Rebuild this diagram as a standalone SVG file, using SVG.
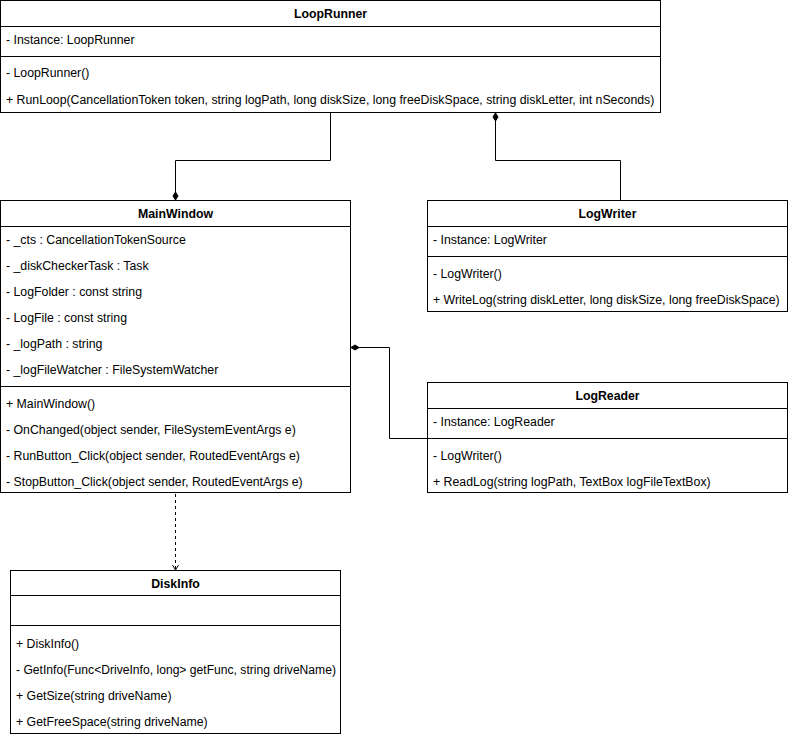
<svg xmlns="http://www.w3.org/2000/svg" width="788" height="738" viewBox="0 0 788 738">
<style>
.box{fill:#fff;stroke:#000;stroke-width:1}
.sep{stroke:#000;stroke-width:1}
.t{font-family:"Liberation Sans",Arial,sans-serif;font-size:12.3px;fill:#000}
.h{font-family:"Liberation Sans",Arial,sans-serif;font-size:12.3px;font-weight:bold;fill:#000;text-anchor:middle}
.edge{fill:none;stroke:#000;stroke-width:1}
.dash{fill:none;stroke:#000;stroke-width:1;stroke-dasharray:3 3}
</style>
<defs>
<marker id="diamond" markerUnits="userSpaceOnUse" markerWidth="10" markerHeight="8" refX="9" refY="4" orient="auto" overflow="visible">
<path d="M1,4 L5,1.5 L9,4 L5,6.5 Z" fill="#000" stroke="#000" stroke-width="1"/>
</marker>
<marker id="open" markerUnits="userSpaceOnUse" markerWidth="10" markerHeight="10" refX="8" refY="5" orient="auto" overflow="visible">
<path d="M3,2 L8,5 L3,8" fill="none" stroke="#000" stroke-width="1"/>
</marker>
</defs>
<rect width="788" height="738" fill="#fff"/>
<g id="connectors">
<path class="edge" d="M330.5,113 V160.5 H175.5 V200" marker-end="url(#diamond)"/>
<path class="edge" d="M620.5,200 V160.5 H495.5 V113" marker-end="url(#diamond)"/>
<path class="edge" d="M428,438.5 H389.5 V347.5 H351" marker-end="url(#diamond)"/>
<path class="dash" d="M175.5,494 V570" marker-end="url(#open)"/>
</g>
<g id="LoopRunner">
<rect class="box" x="0.5" y="0.5" width="660" height="112"/>
<line class="sep" x1="0.5" y1="26.5" x2="660.5" y2="26.5"/>
<line class="sep" x1="0.5" y1="56.5" x2="660.5" y2="56.5"/>
<text class="h" x="330.5" y="18">LoopRunner</text>
<text class="t" x="6" y="44">- Instance: LoopRunner</text>
<text class="t" x="6" y="77">- LoopRunner()</text>
<text class="t" x="6" y="104">+ RunLoop(CancellationToken token, string logPath, long diskSize, long freeDiskSpace, string diskLetter, int nSeconds)</text>
</g>
<g id="MainWindow">
<rect class="box" x="0.5" y="200.5" width="350" height="292"/>
<line class="sep" x1="0.5" y1="226.5" x2="350.5" y2="226.5"/>
<line class="sep" x1="0.5" y1="386.5" x2="350.5" y2="386.5"/>
<text class="h" x="175.5" y="218">MainWindow</text>
<text class="t" x="6" y="244">- _cts : CancellationTokenSource</text>
<text class="t" x="6" y="270">- _diskCheckerTask : Task</text>
<text class="t" x="6" y="296">- LogFolder : const string</text>
<text class="t" x="6" y="322">- LogFile : const string</text>
<text class="t" x="6" y="348">- _logPath : string</text>
<text class="t" x="6" y="374">- _logFileWatcher : FileSystemWatcher</text>
<text class="t" x="6" y="408">+ MainWindow()</text>
<text class="t" x="6" y="434">- OnChanged(object sender, FileSystemEventArgs e)</text>
<text class="t" x="6" y="460">- RunButton_Click(object sender, RoutedEventArgs e)</text>
<text class="t" x="6" y="486">- StopButton_Click(object sender, RoutedEventArgs e)</text>
</g>
<g id="LogWriter">
<rect class="box" x="427.5" y="200.5" width="360" height="111"/>
<line class="sep" x1="427.5" y1="226.5" x2="787.5" y2="226.5"/>
<line class="sep" x1="427.5" y1="256.5" x2="787.5" y2="256.5"/>
<text class="h" x="607.5" y="218">LogWriter</text>
<text class="t" x="433" y="244">- Instance: LogWriter</text>
<text class="t" x="433" y="278">- LogWriter()</text>
<text class="t" x="433" y="304">+ WriteLog(string diskLetter, long diskSize, long freeDiskSpace)</text>
</g>
<g id="LogReader">
<rect class="box" x="427.5" y="382.5" width="360" height="110"/>
<line class="sep" x1="427.5" y1="408.5" x2="787.5" y2="408.5"/>
<line class="sep" x1="427.5" y1="438.5" x2="787.5" y2="438.5"/>
<text class="h" x="607.5" y="400">LogReader</text>
<text class="t" x="433" y="426">- Instance: LogReader</text>
<text class="t" x="433" y="460">- LogWriter()</text>
<text class="t" x="433" y="486">+ ReadLog(string logPath, TextBox logFileTextBox)</text>
</g>
<g id="DiskInfo">
<rect class="box" x="10.5" y="570.5" width="330" height="163"/>
<line class="sep" x1="10.5" y1="595.5" x2="340.5" y2="595.5"/>
<line class="sep" x1="10.5" y1="625.5" x2="340.5" y2="625.5"/>
<text class="h" x="175.5" y="588">DiskInfo</text>
<text class="t" x="16" y="648">+ DiskInfo()</text>
<text class="t" x="16" y="674" textLength="320" lengthAdjust="spacingAndGlyphs">- GetInfo(Func&lt;DriveInfo, long&gt; getFunc, string driveName)</text>
<text class="t" x="16" y="700">+ GetSize(string driveName)</text>
<text class="t" x="16" y="726">+ GetFreeSpace(string driveName)</text>
</g>
</svg>
